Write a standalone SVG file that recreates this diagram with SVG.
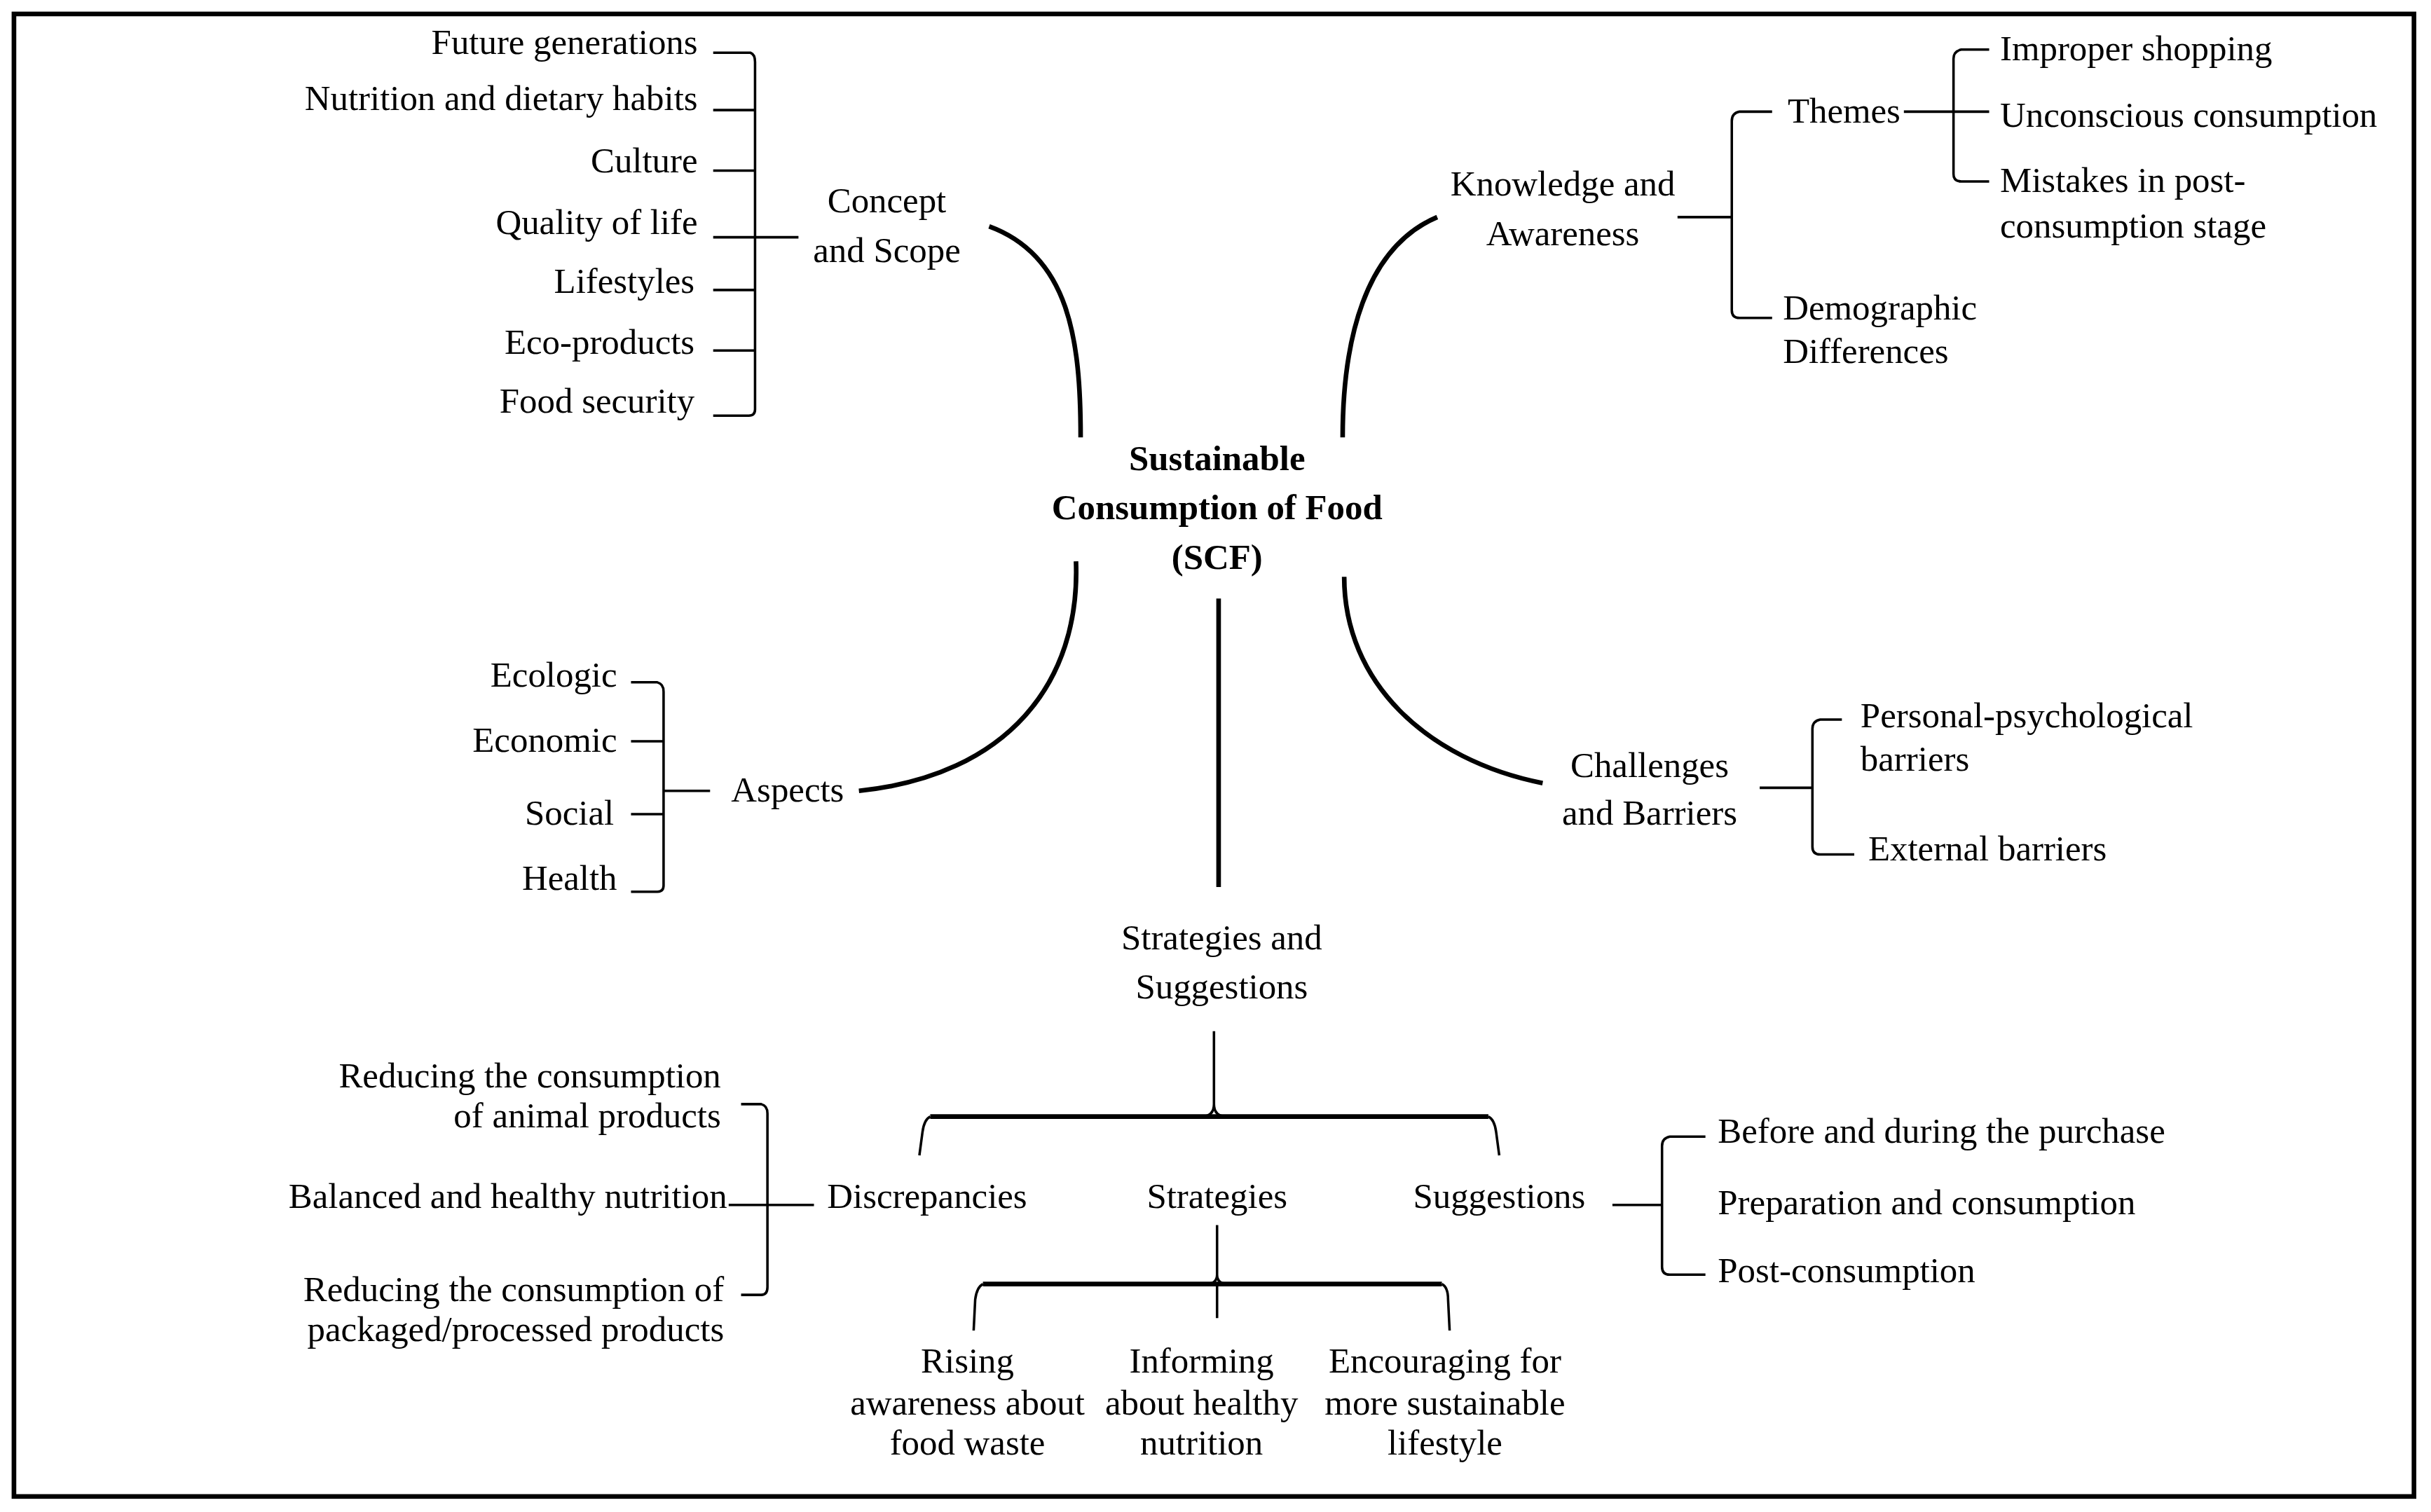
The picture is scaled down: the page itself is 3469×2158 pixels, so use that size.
<svg xmlns="http://www.w3.org/2000/svg" width="3469" height="2158" viewBox="0 0 3469 2158">
<style>
text{font-family:"Liberation Serif","Times New Roman",serif;font-size:23px;fill:#000}
.b{font-weight:bold}
.m{text-anchor:middle}.e{text-anchor:end}
.l{fill:none;stroke:#000;stroke-width:1.6}
.c{fill:none;stroke:#000;stroke-width:3}
</style>
<rect width="3469" height="2158" fill="#fff"/>
<g transform="scale(2.2124,2.2133)">
<rect x="9" y="9" width="1548" height="956" fill="none" stroke="#000" stroke-width="3"/>
<g id="connectors">
<path class="c" d="M638,146 C690,165 697,220 697,282"/>
<path class="c" d="M927,140 C880,160 866,220 866,282"/>
<path class="c" d="M554,510 C650,500 697,440 694,362"/>
<path class="c" d="M867,372 C867,440 920,490 995,505"/>
<path class="c" d="M786,386 L786,572"/>
<path class="l" d="M460,34 L484,34 Q487,35 487,40 L487,264 Q487,268 483,268 L460,268 M460,71 H487 M460,110 H487 M460,153 H515 M460,187 H487 M460,226 H487"/>
<path class="l" d="M407,440 L424,440 Q428,441 428,446 L428,571 Q428,575 424,575 L407,575 M407,478 H428 M407,525 H428 M428,510 H458"/>
<path class="l" d="M1082,140 H1117 M1143,72 L1122,72 Q1117,73 1117,78 L1117,200 Q1117,205 1122,205 L1143,205"/>
<path class="l" d="M1228,72 H1283 M1283,32 L1265,32 Q1260,33 1260,38 L1260,112 Q1260,117 1265,117 L1283,117"/>
<path class="l" d="M1135,508 H1169 M1188,464 L1174,464 Q1169,465 1169,470 L1169,546 Q1169,551 1174,551 L1196,551"/>
<path class="l" d="M783,665 L783,712 Q783,720 775,720 M783,712 Q783,720 791,720"/>
<path class="c" d="M600,720 H960"/>
<path class="l" d="M600,720 Q596,722 595,730 L593,745 M960,720 Q964,722 965,730 L967,745"/>
<path class="l" d="M478,712 L491,712 Q495,713 495,718 L495,830 Q495,835 491,835 L478,835 M470,777 H525"/>
<path class="l" d="M1040,777 H1072 M1100,733 L1077,733 Q1072,734 1072,739 L1072,817 Q1072,822 1077,822 L1100,822"/>
<path class="l" d="M785,790 L785,822 Q785,828 778,828 M785,822 Q785,828 792,828 M785,828 V850"/>
<path class="c" d="M634,828 H930"/>
<path class="l" d="M634,828 Q630,830 629,838 L628,858 M930,828 Q934,830 934,838 L935,858"/>
</g>
<g id="center"><text class="b m" x="785" y="303">Sustainable</text><text class="b m" x="785" y="335">Consumption of Food</text><text class="b m" x="785" y="367">(SCF)</text></g>
<g id="concept"><text class="m" x="572" y="137">Concept</text><text class="m" x="572" y="169">and Scope</text></g>
<g id="concept-items"><text class="e" x="450" y="35">Future generations</text><text class="e" x="450" y="71">Nutrition and dietary habits</text><text class="e" x="450" y="111">Culture</text><text class="e" x="450" y="151">Quality of life</text><text class="e" x="448" y="189">Lifestyles</text><text class="e" x="448" y="228">Eco-products</text><text class="e" x="448" y="266">Food security</text></g>
<g id="aspects"><text class="m" x="508" y="517">Aspects</text></g>
<g id="aspects-items"><text class="e" x="398" y="443">Ecologic</text><text class="e" x="398" y="485">Economic</text><text class="e" x="396" y="532">Social</text><text class="e" x="398" y="574">Health</text></g>
<g id="knowledge"><text class="m" x="1008" y="126">Knowledge and</text><text class="m" x="1008" y="158">Awareness</text></g>
<g id="themes"><text x="1153" y="79">Themes</text></g>
<g id="theme-items"><text x="1290" y="39">Improper shopping</text><text x="1290" y="82">Unconscious consumption</text><text x="1290" y="124">Mistakes in post-</text><text x="1290" y="153">consumption stage</text></g>
<g id="demographic"><text x="1150" y="206">Demographic</text><text x="1150" y="234">Differences</text></g>
<g id="challenges"><text class="m" x="1064" y="501">Challenges</text><text class="m" x="1064" y="532">and Barriers</text></g>
<g id="barriers"><text x="1200" y="469">Personal-psychological</text><text x="1200" y="497">barriers</text><text x="1205" y="555">External barriers</text></g>
<g id="strategies-suggestions"><text class="m" x="788" y="612">Strategies and</text><text class="m" x="788" y="644">Suggestions</text></g>
<g id="discrepancies"><text class="m" x="598" y="779">Discrepancies</text></g>
<g id="strategies"><text class="m" x="785" y="779">Strategies</text></g>
<g id="suggestions"><text class="m" x="967" y="779">Suggestions</text></g>
<g id="discrepancy-items"><text class="e" x="465" y="701">Reducing the consumption</text><text class="e" x="465" y="727">of animal products</text><text class="e" x="469" y="779">Balanced and healthy nutrition</text><text class="e" x="467" y="839">Reducing the consumption of</text><text class="e" x="467" y="865">packaged/processed products</text></g>
<g id="suggestion-items"><text x="1108" y="737">Before and during the purchase</text><text x="1108" y="783">Preparation and consumption</text><text x="1108" y="827">Post-consumption</text></g>
<g id="strategy-items"><text class="m" x="624" y="885">Rising</text><text class="m" x="624" y="912">awareness about</text><text class="m" x="624" y="938">food waste</text><text class="m" x="775" y="885">Informing</text><text class="m" x="775" y="912">about healthy</text><text class="m" x="775" y="938">nutrition</text><text class="m" x="932" y="885">Encouraging for</text><text class="m" x="932" y="912">more sustainable</text><text class="m" x="932" y="938">lifestyle</text></g>
</g>
</svg>
